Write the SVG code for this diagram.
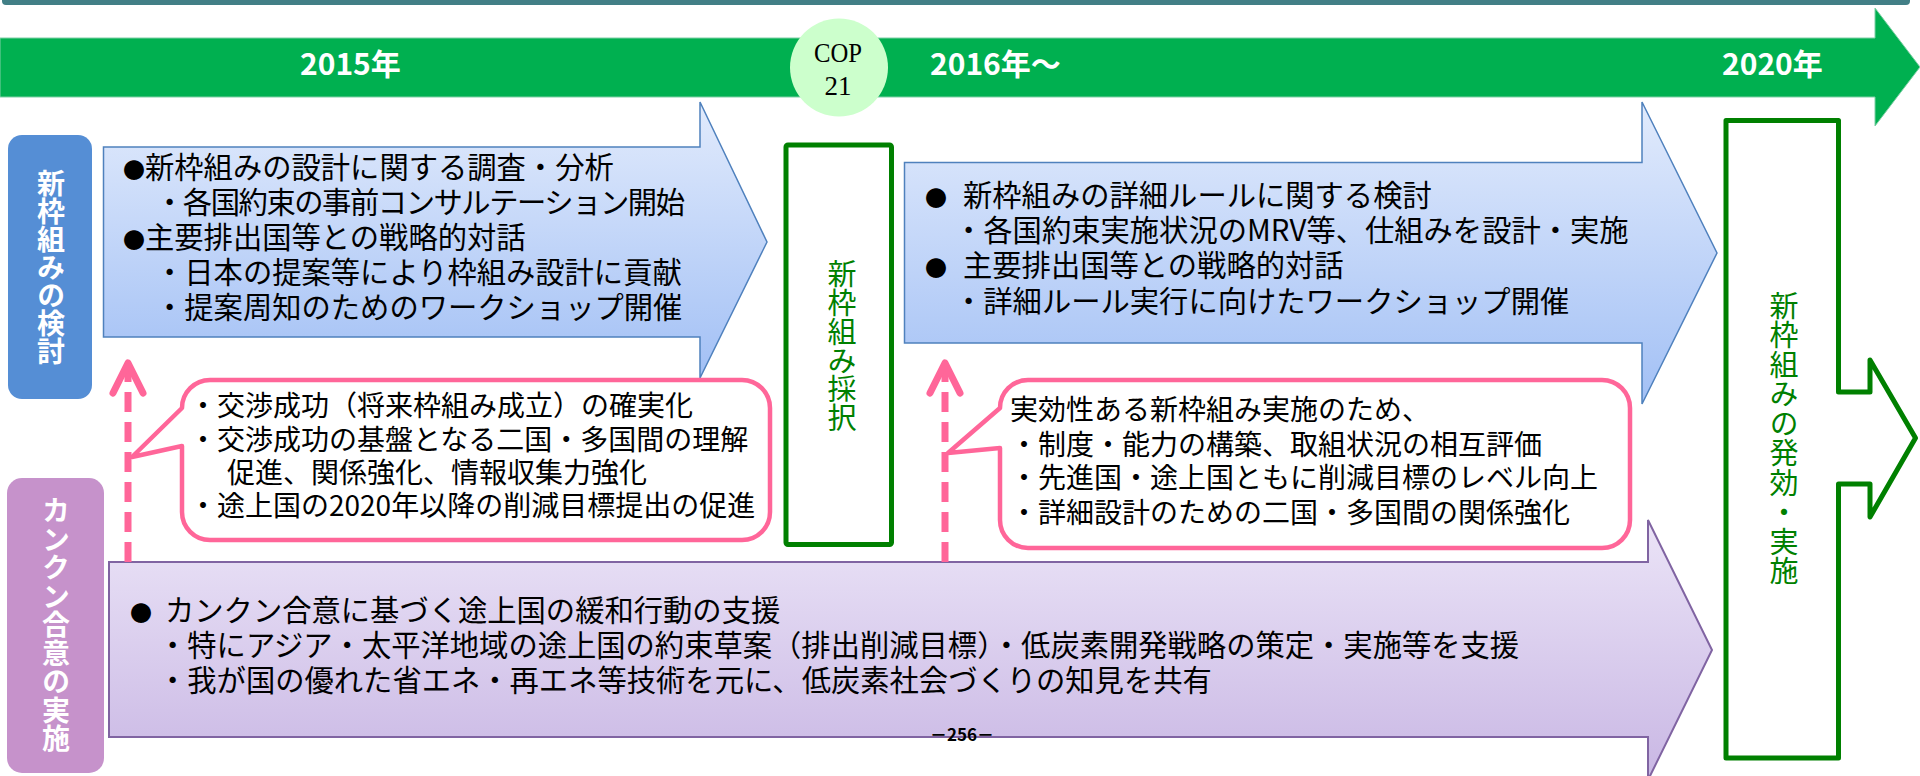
<svg xmlns="http://www.w3.org/2000/svg" width="1920" height="776" viewBox="0 0 1920 776">
<defs>
<linearGradient id="gBlue" x1="0" y1="0" x2="0" y2="1">
<stop offset="0" stop-color="#e2ebfc"/>
<stop offset="1" stop-color="#a2c0f5"/>
</linearGradient>
<linearGradient id="gPurple" x1="0" y1="0" x2="0" y2="1">
<stop offset="0" stop-color="#ebe4f7"/>
<stop offset="1" stop-color="#c9b7e4"/>
</linearGradient>
<marker id="chev" viewBox="-40 -20 50 40" markerWidth="50" markerHeight="40" refX="0" refY="0" orient="auto" markerUnits="userSpaceOnUse">
<path d="M-30,-15 L0,0 L-30,15" fill="none" stroke="#ff6699" stroke-width="7" stroke-linecap="round" stroke-linejoin="round"/>
</marker>
</defs>
<style>
text{font-family:'Noto Sans CJK JP','Noto Sans',sans-serif;}
.serif{font-family:'Liberation Serif','Noto Serif CJK JP',serif;font-size:27px;fill:#000;text-anchor:middle;}
.yr{font-size:30px;font-weight:bold;fill:#fff;}
.body{font-size:29.3px;fill:#000;}
.call{font-size:28px;fill:#000;}
.dot{font-size:22px;}
.vert{writing-mode:vertical-rl;text-anchor:middle;}
.lab{font-size:28px;font-weight:bold;fill:#fff;}
.grn{font-size:29px;fill:#008000;}
.gbox{fill:#fff;stroke:#008000;stroke-width:5;stroke-linejoin:round;}
.callout{fill:#fff;stroke:#ff6699;stroke-width:4.5;stroke-linejoin:round;}
.dash{fill:none;stroke:#ff6699;stroke-width:7;stroke-dasharray:20 10;}
.pg{font-size:17px;font-weight:bold;fill:#000;text-anchor:middle;}
</style>
<rect width="1920" height="776" fill="#fff"/>

<g id="top-rule">
<rect x="2" y="-5" width="1908" height="10" rx="4" fill="#427f86"/>
</g>

<g id="timeline">
<path d="M0,38 H1875 V8 L1920,67 L1875,126 V97 H0 Z" fill="#00b050" stroke="#7fcfa6" stroke-width="1"/>
<text class="yr" x="300" y="75">2015年</text>
<text class="yr" x="930" y="75">2016年～</text>
<text class="yr" x="1722" y="75">2020年</text>
</g>

<g id="cop21">
<circle cx="839" cy="67.5" r="49" fill="#ccffcc"/>
<text class="serif" x="838" y="62" textLength="48" lengthAdjust="spacingAndGlyphs">COP</text>
<text class="serif" x="838" y="95">21</text>
</g>

<g id="label-new-framework">
<rect x="8" y="135" width="84" height="264" rx="14" fill="#558ed5"/>
<text class="lab vert" x="51" y="267.5" letter-spacing="-0.1">新枠組みの検討</text>
</g>

<g id="label-cancun">
<rect x="7" y="478" width="97" height="295" rx="15" fill="#c692cb"/>
<text class="lab vert" x="56" y="625" letter-spacing="0.5">カンクン合意の実施</text>
</g>

<g id="arrow-2015">
<path d="M103.5,147 H700 V102 L767,242 L700,378 V337 H103.5 Z" fill="url(#gBlue)" stroke="#4f81bd" stroke-width="1.5"/>
<text class="body"><tspan class="dot" x="123" y="178">●</tspan><tspan x="145" y="178">新枠組みの設計に関する調査・分析</tspan></text>
<text class="body" x="155" y="213" textLength="530" lengthAdjust="spacing">・各国約束の事前コンサルテーション開始</text>
<text class="body"><tspan class="dot" x="123" y="248">●</tspan><tspan x="145" y="248">主要排出国等との戦略的対話</tspan></text>
<text class="body" x="155" y="283">・日本の提案等により枠組み設計に貢献</text>
<text class="body" x="155" y="318">・提案周知のためのワークショップ開催</text>
</g>

<g id="arrow-2016">
<path d="M904.5,162.5 H1642 V102 L1717,253 L1642,404 V343 H904.5 Z" fill="url(#gBlue)" stroke="#4f81bd" stroke-width="1.5"/>
<text class="body"><tspan class="dot" x="925" y="206">●</tspan><tspan x="963" y="206">新枠組みの詳細ルールに関する検討</tspan></text>
<text class="body" x="954" y="241">・各国約束実施状況のMRV等、仕組みを設計・実施</text>
<text class="body"><tspan class="dot" x="925" y="276">●</tspan><tspan x="963" y="276">主要排出国等との戦略的対話</tspan></text>
<text class="body" x="954" y="312">・詳細ルール実行に向けたワークショップ開催</text>
</g>

<g id="arrow-cancun">
<path d="M109,562 H1648 V520 L1712,650 L1648,780 V737 H109 Z" fill="url(#gPurple)" stroke="#8064a2" stroke-width="2"/>
<text class="body"><tspan class="dot" x="130" y="621">●</tspan><tspan x="165" y="621">カンクン合意に基づく途上国の緩和行動の支援</tspan></text>
<text class="body" x="158" y="656">・特にアジア・太平洋地域の途上国の約束草案（排出削減目標）・低炭素開発戦略の策定・実施等を支援</text>
<text class="body" x="158" y="691">・我が国の優れた省エネ・再エネ等技術を元に、低炭素社会づくりの知見を共有</text>
</g>

<g id="box-adoption">
<rect class="gbox" x="786" y="145" width="105.5" height="399.5" rx="2"/>
<text class="grn vert" x="842" y="346" letter-spacing="-0.3">新枠組み採択</text>
</g>

<g id="box-enforcement">
<path class="gbox" d="M1726,120.5 H1838.5 V392 H1870 V360 L1915.5,438 L1870,517 V484 H1838.5 V758 H1726 Z"/>
<text class="grn vert" x="1784" y="438.5" letter-spacing="0.5">新枠組みの発効・実施</text>
</g>

<g id="callout-2015">
<path class="callout" d="M182,446 L132,457 L182,408 A28,28 0 0 1 210,380 H742 A28,28 0 0 1 770,408 V512 A28,28 0 0 1 742,540 H210 A28,28 0 0 1 182,512 Z"/>
<text class="call" x="189" y="416">・交渉成功（将来枠組み成立）の確実化</text>
<text class="call" x="189" y="450">・交渉成功の基盤となる二国・多国間の理解</text>
<text class="call" x="227" y="483">促進、関係強化、情報収集力強化</text>
<text class="call" x="189" y="516">・途上国の2020年以降の削減目標提出の促進</text>
</g>

<g id="callout-2016">
<path class="callout" d="M1000,448 L948,453 L1000,408 A28,28 0 0 1 1028,380 H1602 A28,28 0 0 1 1630,408 V520 A28,28 0 0 1 1602,548 H1028 A28,28 0 0 1 1000,520 Z"/>
<text class="call" x="1010" y="420">実効性ある新枠組み実施のため、</text>
<text class="call" x="1010" y="455">・制度・能力の構築、取組状況の相互評価</text>
<text class="call" x="1010" y="488">・先進国・途上国ともに削減目標のレベル向上</text>
<text class="call" x="1010" y="523">・詳細設計のための二国・多国間の関係強化</text>
</g>

<g id="connectors">
<path class="dash" d="M128,562 V363" marker-end="url(#chev)"/>
<path class="dash" d="M945,562 V363" marker-end="url(#chev)"/>
</g>

<g id="page-number">
<text class="pg" x="962" y="741">－256－</text>
</g>
</svg>
